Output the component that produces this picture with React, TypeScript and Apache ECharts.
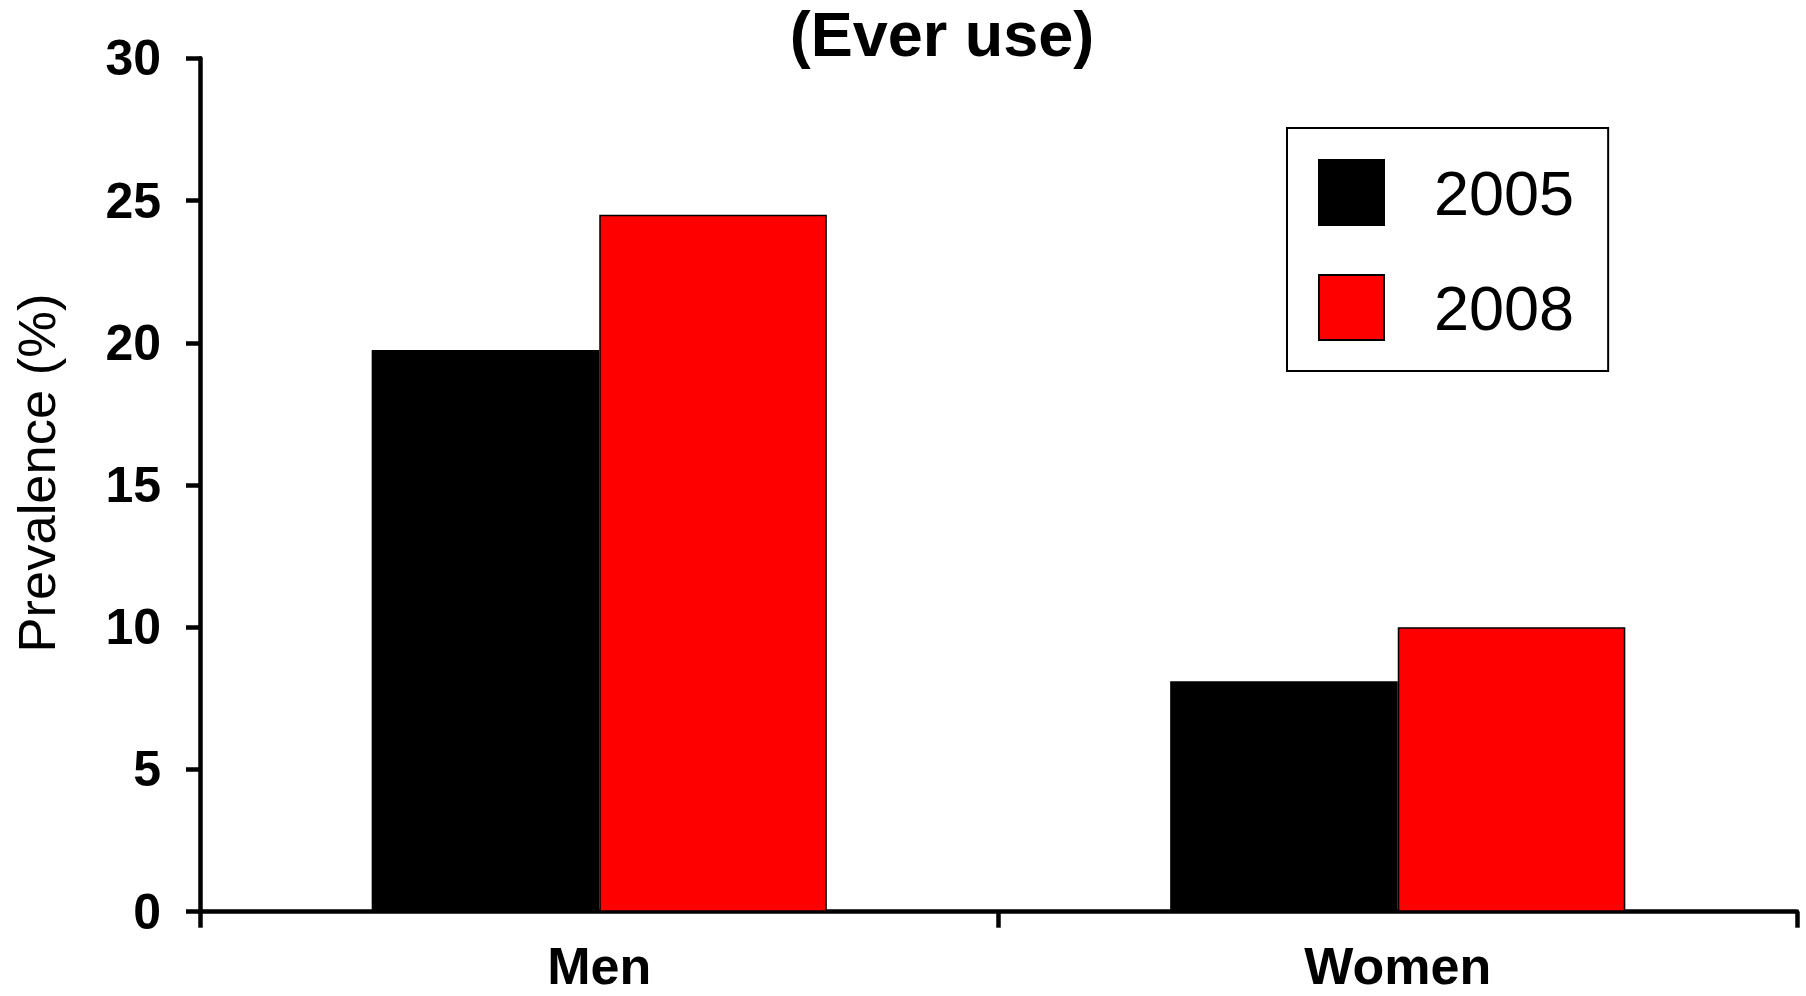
import React, { useEffect, useRef } from "react";
import * as echarts from "echarts";

const categories = ["Men", "Women"];
const seriesNames = ["2005", "2008"];
const values2005 = [19.75, 8.1];
const values2008 = [24.5, 10.0];
const seriesColors = ["#000000", "#ff0000"];
const yTicks = { min: 0, max: 30, interval: 5 };
const titleText = "(Ever use)";
const yAxisName = "Prevalence (%)";

const FONT = "'Liberation Sans', Arial, Helvetica, sans-serif";

export default function App() {
  const ref = useRef<HTMLDivElement>(null);
  useEffect(() => {
    if (!ref.current) return;
    const chart = echarts.init(ref.current, null, { renderer: "svg" });
    const seriesData = [values2005, values2008];
    chart.setOption({
      animation: false,
      backgroundColor: "#ffffff",
      title: {
        text: titleText,
        left: 942,
        textAlign: "center",
        top: 6,
        padding: 0,
        textStyle: { fontFamily: FONT, fontWeight: "bold", fontSize: 63, lineHeight: 56, color: "#000" },
      },
      grid: { left: 200, right: 9, top: 58.3, bottom: 84.3, containLabel: false },
      legend: {
        orient: "vertical",
        left: 1287,
        top: 128,
        padding: [31, 34, 30, 31],
        itemWidth: 65,
        itemHeight: 65,
        itemGap: 48,
        icon: "rect",
        borderColor: "#000",
        borderWidth: 2,
        data: seriesNames,
        textStyle: { fontFamily: FONT, fontSize: 63, color: "#000", padding: [6, 0, 0, 45] },
      },
      xAxis: {
        type: "category",
        data: categories,
        axisLine: { lineStyle: { color: "#000", width: 4.5 } },
        axisTick: { show: true, length: 16, lineStyle: { color: "#000", width: 4.5 } },
        axisLabel: {
          fontFamily: FONT,
          fontWeight: "bold",
          fontSize: 52,
          lineHeight: 40,
          color: "#000",
          margin: 34,
        },
      },
      yAxis: {
        type: "value",
        min: yTicks.min,
        max: yTicks.max,
        interval: yTicks.interval,
        name: yAxisName,
        nameLocation: "middle",
        nameGap: 137,
        nameRotate: 90,
        nameTextStyle: { fontFamily: FONT, fontSize: 52.5, color: "#000", padding: [0, 0, 0, 24] },
        axisLine: { show: true, lineStyle: { color: "#000", width: 4.5 } },
        axisTick: { show: true, length: 14, lineStyle: { color: "#000", width: 4.5 } },
        axisLabel: { fontFamily: FONT, fontWeight: "bold", fontSize: 50, color: "#000", margin: 39 },
        splitLine: { show: false },
      },
      series: seriesNames.map((name, i) => ({
        name,
        type: "bar",
        data: seriesData[i],
        barGap: "0%",
        barCategoryGap: "43%",
        itemStyle: { color: seriesColors[i], borderColor: "#000", borderWidth: 1.5 },
      })),
    });
    return () => chart.dispose();
  }, []);
  return (
    <div
      ref={ref}
      style={{ position: "fixed", left: 0, top: 0, width: 1806, height: 996, background: "#fff" }}
    />
  );
}
